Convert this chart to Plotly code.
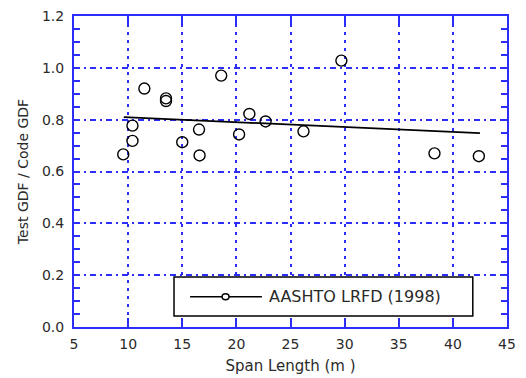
import plotly.graph_objects as go

# ---- data ----
span_length = [9.55, 10.4, 10.4, 11.5, 13.5, 13.5, 15.0, 16.55, 16.6, 18.6,
               20.25, 21.2, 22.7, 26.2, 29.7, 38.3, 42.4]
gdf_ratio = [0.666, 0.777, 0.718, 0.920, 0.882, 0.872, 0.713, 0.762, 0.662, 0.970,
             0.743, 0.822, 0.793, 0.755, 1.028, 0.670, 0.659]
trend_x = [9.6, 42.5]
trend_y = [0.810, 0.748]
x_ticks = [5, 10, 15, 20, 25, 30, 35, 40, 45]
y_ticks = [0.0, 0.2, 0.4, 0.6, 0.8, 1.0, 1.2]
legend_label = "AASHTO LRFD (1998)"

BLUE = "rgb(45,45,250)"
TXT = "#2a2a2a"
FONT = "DejaVu Sans"

fig = go.Figure()
fig.add_trace(go.Scatter(x=trend_x, y=trend_y, mode="lines",
                         line=dict(color="black", width=1.8), showlegend=False))
fig.add_trace(go.Scatter(x=span_length, y=gdf_ratio, mode="markers",
                         marker=dict(symbol="circle-open", size=11, color="black",
                                     line=dict(width=1.4, color="black")),
                         showlegend=False))

axis_common = dict(showline=True, linecolor=BLUE, linewidth=2, mirror="ticks",
                   ticks="inside", tickcolor=BLUE, tickwidth=2, automargin=False,
                   showgrid=True, gridcolor=BLUE, gridwidth=1.6,
                   zeroline=False, tickfont=dict(family=FONT, size=14, color=TXT))

fig.update_xaxes(range=[5, 45], tickvals=x_ticks, ticklen=9,
                 griddash="3px,5px", ticklabelstandoff=3,
                 title=dict(text="Span Length (m )", font=dict(family=FONT, size=15, color=TXT),
                            standoff=10),
                 **axis_common)
fig.update_yaxes(range=[0, 1.2], tickvals=y_ticks, tickformat=".1f", ticklen=6,
                 griddash="6px,4px,2px,4px", ticklabelstandoff=5,
                 minor=dict(dtick=0.05, ticks="inside", ticklen=6, tickcolor=BLUE,
                            tickwidth=2, showgrid=False),
                 title=dict(text="Test GDF / Code GDF", font=dict(family=FONT, size=14, color=TXT),
                            standoff=10),
                 **axis_common)

# manual legend box
fig.add_shape(type="rect", xref="paper", yref="paper", x0=0.231, x1=0.921, y0=0.035, y1=0.161,
              line=dict(color="black", width=1.5), fillcolor="white", layer="above")
fig.add_shape(type="line", xref="paper", yref="paper", x0=0.268, x1=0.434, y0=0.0975, y1=0.0975,
              line=dict(color="black", width=1.5), layer="above")
fig.add_shape(type="circle", xref="paper", yref="paper", x0=0.342, x1=0.358, y0=0.088, y1=0.107,
              line=dict(color="black", width=1.5), fillcolor="white", layer="above")
fig.add_annotation(xref="paper", yref="paper", x=0.446, y=0.0975, xanchor="left", yanchor="middle",
                   text=legend_label, showarrow=False,
                   font=dict(family=FONT, size=16, color=TXT))

fig.update_layout(width=526, height=378, margin=dict(l=74, r=19, t=16, b=51),
                  paper_bgcolor="white", plot_bgcolor="white", showlegend=False)

fig.write_html("out.html")
